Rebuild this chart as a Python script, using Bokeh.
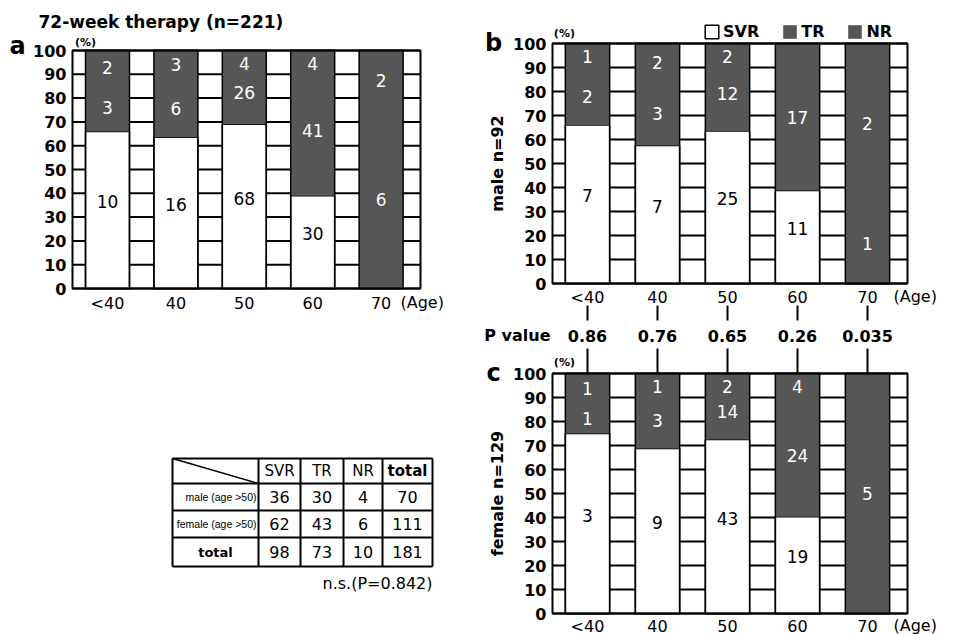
import math
from bokeh.plotting import figure
from bokeh.models import (ColumnDataSource, FixedTicker, Legend, LegendItem, Range1d, LinearAxis)
from bokeh.layouts import row
from bokeh.embed import file_html
from bokeh.resources import INLINE
from bokeh.core.properties import value

# ---------------- data ----------------
ages = ["<40", "40", "50", "60", "70"]

# panel a: 72-week therapy, all patients (n=221) -- counts and bar heights (%)
all_svr_n = [10, 16, 68, 30, 0]
all_tr_n = [3, 6, 26, 41, 6]
all_nr_n = [2, 3, 4, 4, 2]
all_svr_pct = [66, 63.5, 69, 39, 0]
all_tr_pct = [20, 24.5, 26.5, 55, 75]
all_nr_pct = [14, 12, 4.5, 6, 25]

# panel b: male n=92
male_svr_n = [7, 7, 25, 11, 0]
male_tr_n = [2, 3, 12, 17, 1]
male_nr_n = [1, 2, 2, 0, 2]
male_svr_pct = [66, 57.5, 63.5, 38.75, 0]
male_tr_pct = [24, 27, 31, 61.25, 33.3]
male_nr_pct = [10, 15.5, 5.5, 0, 66.7]

# panel c: female n=129
female_svr_n = [3, 9, 43, 19, 0]
female_tr_n = [1, 3, 14, 24, 5]
female_nr_n = [1, 1, 2, 4, 0]
female_svr_pct = [75, 68.75, 72.5, 40.3, 0]
female_tr_pct = [12.5, 23.5, 23.5, 51, 100]
female_nr_pct = [12.5, 7.75, 4, 8.7, 0]

p_values = ["0.86", "0.76", "0.65", "0.26", "0.035"]

y_ticks = [0, 10, 20, 30, 40, 50, 60, 70, 80, 90, 100]

table_cols = ["SVR", "TR", "NR", "total"]
table_rows = ["male (age >50)", "female (age >50)", "total"]
table_male = [36, 30, 4, 70]
table_female = [62, 43, 6, 111]
table_total = [98, 73, 10, 181]
table_note = "n.s.(P=0.842)"

# ---------------- style ----------------
DARK = "#565656"
FONT = "DejaVu Sans"
W_LEFT, W_RIGHT, H = 478, 476, 634


def txt(p, x, y, text, size, bold=False, align="left", angle=0.0, color="black",
        font=FONT, **kw):
    p.text(x=x, y=y, text=text, text_font=value(font), text_font_size=size,
           text_font_style="bold" if bold else "normal", text_align=align,
           text_baseline="middle", angle=angle, text_color=color, **kw)


def draw_panel(p, base, width, svr, tr, nr, svr_n, tr_n, nr_n, left, right):
    x = list(range(len(ages)))
    # horizontal rules every 10 % and the panel frame
    p.segment(x0=[left] * len(y_ticks), x1=[right] * len(y_ticks),
              y0=[base + t for t in y_ticks], y1=[base + t for t in y_ticks],
              line_color="black", line_width=2)
    bottom = [base] * len(x)
    s_top = [base + a for a in svr]
    t_top = [base + a + b for a, b in zip(svr, tr)]
    n_top = [base + a + b + c for a, b, c in zip(svr, tr, nr)]
    r_svr = p.vbar(x=x, bottom=bottom, top=s_top, width=width, fill_color="white",
                   line_color="black", line_width=1.5)
    # TR drawn up to the top of the stack, NR laid over it (same tone, no seam)
    r_tr = p.vbar(x=x, bottom=s_top, top=n_top, width=width, fill_color=DARK, line_color=None)
    r_nr = p.vbar(x=x, bottom=t_top, top=n_top, width=width, fill_color=DARK, line_color=None)
    p.vbar(x=x, bottom=bottom, top=n_top, width=width, fill_color=None,
           line_color="black", line_width=1.5)
    p.quad(left=[left], right=[right], bottom=[base], top=[base + 100],
           fill_color=None, line_color="black", line_width=2)
    lx, ly, lt, lc = [], [], [], []
    for i in x:
        if svr_n[i] > 0:
            lx.append(i); ly.append(base + svr[i] / 2 + 3.5)
            lt.append(str(svr_n[i])); lc.append("black")
        if tr_n[i] > 0:
            lx.append(i); ly.append(base + min(svr[i] + tr[i] / 2, 95))
            lt.append(str(tr_n[i])); lc.append("white")
        if nr_n[i] > 0:
            lx.append(i); ly.append(base + min(svr[i] + tr[i] + nr[i] / 2, 94.5))
            lt.append(str(nr_n[i])); lc.append("white")
    src = ColumnDataSource(dict(x=lx, y=ly, t=lt, c=lc))
    p.text(x="x", y="y", text="t", text_color="c", source=src, text_align="center",
           text_baseline="middle", text_font=value(FONT), text_font_size="17px")
    return r_svr, r_tr, r_nr


def y_axis(p, loc, ticks, overrides=None):
    ax = LinearAxis(fixed_location=loc, ticker=FixedTicker(ticks=ticks))
    if overrides:
        ax.major_label_overrides = overrides
    ax.major_label_text_font = FONT
    ax.major_label_text_font_size = "16px"
    ax.major_label_text_font_style = "bold"
    ax.major_label_text_color = "black"
    ax.axis_line_color = None
    ax.major_tick_line_color = None
    ax.minor_tick_line_color = None
    ax.major_tick_in = 0
    ax.major_tick_out = 0
    ax.minor_tick_in = 0
    ax.minor_tick_out = 0
    ax.major_label_standoff = 6
    p.add_layout(ax, "left")


def x_axis(p, loc, standoff):
    ax = LinearAxis(fixed_location=loc, ticker=FixedTicker(ticks=list(range(len(ages)))))
    ax.major_label_overrides = {i: a for i, a in enumerate(ages)}
    ax.major_label_text_font = FONT
    ax.major_label_text_font_size = "16px"
    ax.major_label_text_color = "black"
    ax.axis_line_color = None
    ax.major_tick_line_color = None
    ax.minor_tick_line_color = None
    ax.major_tick_in = 0
    ax.major_tick_out = 0
    ax.minor_tick_in = 0
    ax.minor_tick_out = 0
    ax.major_label_standoff = standoff
    p.add_layout(ax, "below")


def base_fig(w, xr, yr):
    p = figure(width=w, height=H, x_range=xr, y_range=yr, min_border=0,
               x_axis_location=None, y_axis_location=None,
               output_backend="svg", toolbar_location=None)
    p.outline_line_color = None
    p.grid.visible = False
    p.title.visible = False
    return p


# ---------------- left column: panel a + table ----------------
KXA, KYA = 68.4, 2.38          # px per category / px per percent
XA_C0, YA_0 = 107, 288          # page position of first category / of 0 %
pa = base_fig(W_LEFT, Range1d(-XA_C0 / KXA, (W_LEFT - XA_C0) / KXA),
              Range1d(-(H - YA_0) / KYA, YA_0 / KYA))
pa.extra_x_ranges = {"tx": Range1d(0, W_LEFT)}
pa.extra_y_ranges = {"ty": Range1d(H, 0)}
a_left, a_right = (72 - XA_C0) / KXA, (420 - XA_C0) / KXA
draw_panel(pa, 0, 0.643, all_svr_pct, all_tr_pct, all_nr_pct,
           all_svr_n, all_tr_n, all_nr_n, a_left, a_right)
y_axis(pa, a_left, y_ticks)
x_axis(pa, 0, 5)
txt(pa, [-1.009], [111.8], ["72-week therapy (n=221)"], "17px", bold=True)
txt(pa, [-1.316], [101.7], ["a"], "24px", bold=True, align="center")
txt(pa, [-0.32], [103.4], ["(%)"], "11px", bold=True, align="center")
txt(pa, [4.284], [-5.9], ["(Age)"], "16px")

# table (page-pixel coordinates through the extra ranges)
col_edges = [172, 258, 300, 343, 382, 432]
row_edges = [458, 483, 510, 537, 566]
tk = dict(x_range_name="tx", y_range_name="ty")
pa.segment(x0=[col_edges[0]] * len(row_edges), x1=[col_edges[-1]] * len(row_edges),
           y0=row_edges, y1=row_edges, line_color="black", line_width=2, **tk)
pa.segment(x0=col_edges, x1=col_edges, y0=[row_edges[0]] * len(col_edges),
           y1=[row_edges[-1]] * len(col_edges), line_color="black", line_width=2, **tk)
pa.segment(x0=[col_edges[0]], y0=[row_edges[0]], x1=[col_edges[1]], y1=[row_edges[1]],
           line_color="black", line_width=1.5, **tk)
cx = [(a + b) / 2 for a, b in zip(col_edges[1:-1], col_edges[2:])]
ry = [(a + b) / 2 for a, b in zip(row_edges[:-1], row_edges[1:])]
txt(pa, cx[:3], [ry[0]] * 3, table_cols[:3], "15px", align="center", **tk)
txt(pa, cx[3:], [ry[0]], table_cols[3:], "15px", bold=True, align="center", **tk)
for r, vals in enumerate([table_male, table_female, table_total]):
    txt(pa, cx, [ry[r + 1]] * 4, [str(v) for v in vals], "16px", align="center", **tk)
txt(pa, [col_edges[1] - 2] * 2, ry[1:3], table_rows[:2], "10.5px", align="right",
    font="Liberation Sans", **tk)
txt(pa, [(col_edges[0] + col_edges[1]) / 2], [ry[3]], table_rows[2:], "13px", bold=True,
    align="center", **tk)
txt(pa, [col_edges[-1]], [583], [table_note], "16px", align="right", **tk)

# ---------------- right column: panels b and c ----------------
KXB, KYB = 70.0, 2.4
XB_C0, YC_0 = 587, 613          # page position of first category / of panel c 0 %
X0R = 478                       # page x where the right figure starts
pr = base_fig(W_RIGHT, Range1d(-(XB_C0 - X0R) / KXB, (X0R + W_RIGHT - XB_C0) / KXB),
              Range1d(-(H - YC_0) / KYB, YC_0 / KYB))
B0 = (YC_0 - 283) / KYB        # panel b sits above panel c in the same y scale
b_left, b_right = (552 - XB_C0) / KXB, (907 - XB_C0) / KXB
rb = draw_panel(pr, B0, 0.633, male_svr_pct, male_tr_pct, male_nr_pct,
                male_svr_n, male_tr_n, male_nr_n, b_left, b_right)
draw_panel(pr, 0, 0.633, female_svr_pct, female_tr_pct, female_nr_pct,
           female_svr_n, female_tr_n, female_nr_n, b_left, b_right)
ov = {float(t): str(t) for t in y_ticks}
ov.update({B0 + t: str(t) for t in y_ticks})
y_axis(pr, b_left, y_ticks + [B0 + t for t in y_ticks], ov)
x_axis(pr, 0, 3)
x_axis(pr, B0, 4)

xs = list(range(len(ages)))
pr.segment(x0=xs, x1=xs, y0=[(YC_0 - 305) / KYB] * 5, y1=[(YC_0 - 320) / KYB] * 5,
           line_color="black", line_width=2)
pr.segment(x0=xs, x1=xs, y0=[(YC_0 - 348) / KYB] * 5, y1=[100] * 5,
           line_color="black", line_width=2)
y_p = (YC_0 - 335) / KYB
txt(pr, xs, [y_p] * 5, p_values, "16px", bold=True, align="center")
txt(pr, [(550 - XB_C0) / KXB], [y_p], ["P value"], "16px", bold=True, align="right")
txt(pr, [-1.286], [B0 + 50], ["male n=92"], "16px", bold=True, align="center",
    angle=math.pi / 2)
txt(pr, [-1.286], [50], ["female n=129"], "16px", bold=True, align="center",
    angle=math.pi / 2)
txt(pr, [-1.343], [B0 + 100.4], ["b"], "24px", bold=True, align="center")
txt(pr, [-1.343], [100.4], ["c"], "24px", bold=True, align="center")
txt(pr, [-0.33], [B0 + 104.2], ["(%)"], "11px", bold=True, align="center")
txt(pr, [-0.33], [104.6], ["(%)"], "11px", bold=True, align="center")
txt(pr, [(893 - XB_C0) / KXB], [(YC_0 - 296) / KYB], ["(Age)"], "16px")
txt(pr, [(893 - XB_C0) / KXB], [(YC_0 - 625) / KYB], ["(Age)"], "16px")

legend = Legend(items=[LegendItem(label="SVR", renderers=[rb[0]]),
                       LegendItem(label="TR", renderers=[rb[1]]),
                       LegendItem(label="NR", renderers=[rb[2]])],
                location=(703 - X0R, H - 41), orientation="horizontal", padding=0,
                margin=0, spacing=22, glyph_width=17, glyph_height=17, label_height=17,
                label_standoff=3, label_text_font=FONT, label_text_font_size="16px",
                label_text_font_style="bold", label_text_color="black",
                border_line_color=None, background_fill_alpha=0)
pr.add_layout(legend)

layout = row(pa, pr)
open("out.html", "w").write(file_html(layout, INLINE))
